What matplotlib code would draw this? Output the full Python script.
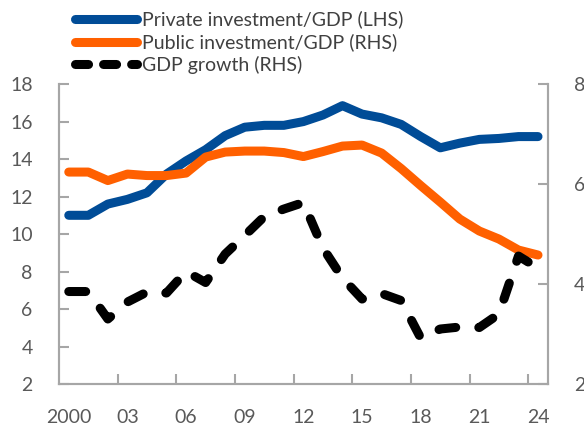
import numpy as np
import matplotlib.pyplot as plt
from matplotlib.lines import Line2D

plt.rcParams['font.family'] = ['Lato', 'DejaVu Sans']
plt.rcParams['lines.scale_dashes'] = False

years = list(range(2000, 2025))
private_inv = [11.0, 11.0, 11.6, 11.85, 12.2, 13.2, 13.9, 14.5, 15.25, 15.7, 15.8, 15.8,
               16.0, 16.35, 16.85, 16.4, 16.2, 15.85, 15.2, 14.6, 14.85, 15.05, 15.1, 15.2, 15.2]
public_inv = [6.24, 6.24, 6.07, 6.2, 6.17, 6.17, 6.22, 6.54, 6.64, 6.66, 6.66, 6.63,
              6.55, 6.65, 6.76, 6.78, 6.62, 6.31, 5.97, 5.64, 5.3, 5.06, 4.9, 4.68, 4.58]
gdp_growth = [3.85, 3.85, 3.3, 3.64, 3.84, 3.82, 4.25, 4.03, 4.6, 4.97, 5.35, 5.5,
              5.63, 4.72, 4.12, 3.7, 3.81, 3.67, 2.92, 3.1, 3.14, 3.13, 3.4, 4.56, 4.32]
tick_years = ["2000", "03", "06", "09", "12", "15", "18", "21", "24"]

BLUE = "#004c97"
ORANGE = "#ff6000"
GREY = "#a6a6a6"
TXT = "#595959"
lw = 6.5

fig = plt.figure(figsize=(5.84, 4.26), dpi=100)
ax = fig.add_axes([0.101, 0.0986, 0.837, 0.704])
ax2 = ax.twinx()

x = np.arange(len(years))
ax.plot(x, private_inv, color=BLUE, lw=lw, solid_capstyle='round', solid_joinstyle='round')
ax2.plot(x, public_inv, color=ORANGE, lw=lw, solid_capstyle='round', solid_joinstyle='round')
ax2.plot(x, gdp_growth, color='black', lw=lw, dashes=(12.2, 16.6),
         dash_capstyle='round', dash_joinstyle='round')

ax.set_xlim(-0.5, len(years) - 0.5)
ax.set_ylim(2, 18)
ax2.set_ylim(2, 8)
ax.set_yticks(np.arange(2, 19, 2))
ax2.set_yticks(np.arange(2, 9, 2))
ax.set_xticks(x[::3])
ax.set_xticklabels(tick_years)
ax.set_xticks(np.arange(2.5, len(years), 3), minor=True)

for a in (ax, ax2):
    for s in a.spines.values():
        s.set_color(GREY)
        s.set_linewidth(1.5)
    a.spines['top'].set_visible(False)
    a.tick_params(axis='both', which='both', direction='in', color=GREY, width=1.5,
                  length=7, labelsize=14, labelcolor=TXT, pad=19)
ax.tick_params(axis='x', which='major', length=0, pad=18)
ax.tick_params(axis='x', which='minor', length=7)

handles = [
    Line2D([], [], color=BLUE, lw=lw, solid_capstyle='round'),
    Line2D([], [], color=ORANGE, lw=lw, solid_capstyle='round'),
    Line2D([], [], color='black', lw=lw, dashes=(9.4, 10.8), dash_capstyle='round'),
]
labels = ["Private investment/GDP (LHS)", "Public investment/GDP (RHS)", "GDP growth (RHS)"]
fig.legend(handles, labels, loc='upper left', bbox_to_anchor=(0.128, 0.975),
           frameon=False, fontsize=14, handlelength=3.2, handletextpad=0.25,
           labelspacing=0.25, borderpad=0, borderaxespad=0, labelcolor='#404040')

fig.savefig("out.png", dpi=100)
